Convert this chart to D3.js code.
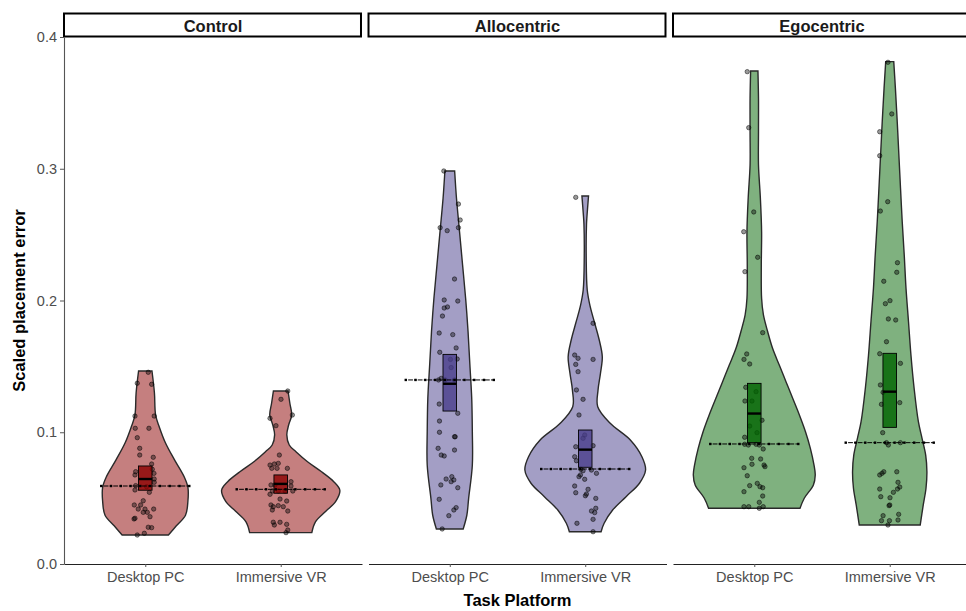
<!DOCTYPE html>
<html>
<head>
<meta charset="utf-8">
<script src="https://cdn.jsdelivr.net/npm/d3@7"></script>
<style>
  body { margin: 0; background: #fff; }
  text { font-family: "Liberation Sans", Arial, sans-serif; }
</style>
</head>
<body>
<svg id="chart" width="966" height="611"></svg>
<script>
const facets = ["Control", "Allocentric", "Egocentric"];
const platforms = ["Desktop PC", "Immersive VR"];
const yTicks = [0, 0.1, 0.2, 0.3, 0.4];
const colours = ["#8b0000", "#483d8b", "#006400"];

// box stats per group (facet order, desktop then VR)
const boxLower = [0.056, 0.0537, 0.1161, 0.0734, 0.0921, 0.1037];
const boxMedian = [0.0645, 0.0608, 0.1368, 0.0868, 0.1142, 0.1308];
const boxUpper = [0.0744, 0.0676, 0.1591, 0.1017, 0.1371, 0.1599];
// dotted reference line per group
const refLine = [0.0592, 0.0567, 0.1397, 0.0721, 0.0911, 0.0921];

// violin outlines: [value, relative half-width]
const controlDesktopViolin = [[0.1465, 0.11], [0.13, 0.15], [0.113, 0.17], [0.104, 0.23], [0.092, 0.33], [0.079, 0.48],
  [0.066, 0.64], [0.058, 0.7], [0.048, 0.7], [0.037, 0.66], [0.029, 0.51], [0.022, 0.38]];
const controlVRViolin = [[0.1313, 0.12], [0.122, 0.15], [0.113, 0.18], [0.1055, 0.13], [0.098, 0.1], [0.0903, 0.14],
  [0.0852, 0.25], [0.0776, 0.44], [0.07, 0.67], [0.0625, 0.87], [0.056, 0.97], [0.0473, 0.9], [0.04, 0.74],
  [0.032, 0.57], [0.0238, 0.51]];
const alloDesktopViolin = [[0.2983, 0.08], [0.2776, 0.11], [0.2523, 0.16], [0.227, 0.21], [0.2017, 0.26], [0.1763, 0.3],
  [0.151, 0.33], [0.1258, 0.36], [0.1004, 0.37], [0.075, 0.37], [0.05, 0.31], [0.037, 0.28], [0.0266, 0.22]];
const alloVRViolin = [[0.2793, 0.054], [0.2636, 0.028], [0.258, 0.021], [0.2333, 0.016], [0.208, 0.033], [0.1953, 0.082],
  [0.1827, 0.156], [0.17, 0.23], [0.1573, 0.28], [0.1447, 0.25], [0.132, 0.21], [0.1194, 0.205], [0.1068, 0.41],
  [0.0941, 0.74], [0.0814, 0.93], [0.0713, 0.99], [0.0613, 0.89], [0.0511, 0.67], [0.041, 0.45], [0.0309, 0.31],
  [0.0245, 0.26]];
const egoDesktopViolin = [[0.3742, 0.06], [0.3535, 0.069], [0.3281, 0.069], [0.3028, 0.069], [0.2776, 0.1], [0.2522, 0.12],
  [0.227, 0.115], [0.2017, 0.12], [0.189, 0.15], [0.1763, 0.22], [0.1637, 0.3], [0.151, 0.41], [0.1384, 0.52],
  [0.1258, 0.63], [0.1131, 0.74], [0.1004, 0.84], [0.0878, 0.92], [0.0751, 0.98], [0.0676, 1], [0.06, 0.97],
  [0.0499, 0.82], [0.0423, 0.75]];
const egoVRViolin = [[0.3813, 0.066], [0.361, 0.093], [0.3357, 0.123], [0.3104, 0.15], [0.2852, 0.177], [0.2598, 0.205],
  [0.2345, 0.238], [0.2093, 0.267], [0.1839, 0.308], [0.1586, 0.348], [0.1334, 0.4], [0.108, 0.47], [0.0954, 0.53],
  [0.0827, 0.59], [0.07, 0.61], [0.0575, 0.595], [0.0448, 0.55], [0.0296, 0.5]];

// participants: [value, jitter offset in category units]
const controlDesktopPts = [[0.1455, 0.022], [0.1372, -0.059], [0.1364, 0.047], [0.1123, -0.076], [0.1123, 0.066],
  [0.103, -0.074], [0.103, 0.027], [0.0959, -0.059], [0.0878, -0.041], [0.0827, -0.041], [0.081, 0.059],
  [0.0759, 0.047], [0.0719, 0.052], [0.0701, -0.071], [0.0688, 0.064], [0.0676, -0.076], [0.0645, 0.066],
  [0.062, 0.066], [0.0595, -0.071], [0.0587, 0.01], [0.0562, -0.076], [0.0544, 0.03], [0.048, -0.015],
  [0.0448, -0.081], [0.0448, -0.034], [0.0417, -0.052], [0.0417, -0.002], [0.0417, 0.062], [0.0392, 0.015],
  [0.0392, -0.015], [0.0359, 0.035], [0.0347, -0.076], [0.0342, -0.083], [0.0279, 0.022], [0.0276, 0.047],
  [0.0233, -0.007], [0.022, -0.059]];
const controlVRPts = [[0.1313, 0.052], [0.125, 0.002], [0.1106, -0.079], [0.1131, 0.086], [0.105, -0.035],
  [0.0827, -0.01], [0.0751, -0.079], [0.0759, -0.047], [0.0764, -0.018], [0.0726, -0.066], [0.0726, -0.027],
  [0.0726, 0.049], [0.06, -0.072], [0.06, -0.042], [0.0625, 0.076], [0.0592, 0.076], [0.0554, -0.062],
  [0.0554, -0.018], [0.0554, 0.032], [0.0554, 0.089], [0.0529, -0.079], [0.0493, -0.005], [0.0478, 0.044],
  [0.0448, -0.072], [0.0435, -0.055], [0.0443, -0.018], [0.0435, 0.019], [0.041, -0.062], [0.0402, 0.052],
  [0.0317, -0.055], [0.0317, -0.005], [0.0296, -0.047], [0.0301, 0.044], [0.0258, 0.052], [0.0238, 0.039]];
const alloDesktopPts = [[0.2983, -0.044], [0.2732, 0.064], [0.2611, 0.077], [0.2553, -0.071], [0.253, -0.019],
  [0.2553, 0.064], [0.2163, 0.035], [0.2004, -0.041], [0.1996, 0.059], [0.1943, -0.041], [0.1951, -0.017],
  [0.1882, -0.054], [0.1753, -0.078], [0.1741, 0.022], [0.164, 0.047], [0.1607, -0.074], [0.1553, 0.005],
  [0.1556, 0.055], [0.1491, 0.01], [0.1397, -0.083], [0.1409, -0.063], [0.1397, -0.034], [0.1397, 0.035],
  [0.1214, -0.078], [0.1144, 0.059], [0.1085, -0.076], [0.1, -0.076], [0.0966, 0.035], [0.0966, 0.04],
  [0.0878, -0.086], [0.0865, 0.035], [0.0827, -0.063], [0.082, -0.041], [0.0645, -0.027], [0.0663, 0.015],
  [0.0638, 0.03], [0.0625, 0.01], [0.06, -0.066], [0.0579, 0.059], [0.0491, -0.078], [0.0428, 0.047],
  [0.041, 0.03], [0.0367, -0.007], [0.0266, -0.056]];
const alloVRPts = [[0.2783, -0.07], [0.1827, 0.058], [0.1586, -0.078], [0.1561, -0.053], [0.1553, 0.058],
  [0.1515, -0.07], [0.146, -0.053], [0.1321, -0.065], [0.125, -0.016], [0.1131, -0.046], [0.0979, -0.004],
  [0.0954, -0.016], [0.089, -0.07], [0.0898, 0.058], [0.0814, -0.078], [0.0784, -0.065], [0.0719, -0.033],
  [0.0708, -0.016], [0.0713, 0.046], [0.0688, 0.083], [0.0676, -0.035], [0.0663, -0.046], [0.0643, -0.004],
  [0.0592, -0.078], [0.0567, 0.021], [0.0541, -0.07], [0.0531, 0.009], [0.0518, 0.001], [0.0498, 0.078],
  [0.0423, 0.078], [0.0402, 0.046], [0.039, 0.07], [0.0339, 0.058], [0.0309, -0.061], [0.0245, 0.058]];
const egoDesktopPts = [[0.3737, -0.052], [0.3312, -0.041], [0.2672, -0.004], [0.2522, -0.078], [0.2328, 0.025],
  [0.2219, -0.069], [0.1756, 0.062], [0.1594, -0.056], [0.1553, -0.076], [0.1518, -0.034], [0.1341, -0.063],
  [0.1308, 0.013], [0.1237, -0.069], [0.1237, -0.017], [0.1091, 0.057], [0.1047, -0.034], [0.0997, 0.02],
  [0.0962, -0.071], [0.0909, -0.071], [0.0903, -0.044], [0.0909, 0.013], [0.0903, 0.037], [0.0873, 0.066],
  [0.0802, -0.019], [0.0797, 0.047], [0.0757, -0.017], [0.0731, -0.076], [0.0751, 0.072], [0.0739, 0.079],
  [0.067, -0.052], [0.0612, 0.022], [0.0595, -0.034], [0.0587, 0.042], [0.0579, 0.062], [0.0549, -0.076],
  [0.0516, 0.062], [0.0468, 0.037], [0.0435, -0.076], [0.0435, -0.041], [0.0423, 0.037], [0.0435, 0.066]];
const egoVRPts = [[0.3808, -0.013], [0.3416, 0.015], [0.3281, -0.074], [0.3099, -0.074], [0.275, -0.015],
  [0.2679, -0.069], [0.2287, 0.057], [0.2214, 0.052], [0.2146, -0.044], [0.1999, 0.002], [0.1976, -0.032],
  [0.186, -0.01], [0.1852, 0.044], [0.1687, -0.024], [0.1596, -0.074], [0.1523, 0.079], [0.1359, -0.069],
  [0.1303, -0.049], [0.1212, -0.061], [0.1225, 0.074], [0.0997, -0.052], [0.0903, -0.01], [0.0921, -0.024],
  [0.0921, 0.079], [0.0676, -0.074], [0.07, -0.044], [0.0688, -0.057], [0.07, 0.052], [0.062, 0.061],
  [0.0584, 0.074], [0.0569, 0.057], [0.0569, -0.074], [0.0544, 0.027], [0.0511, -0.066], [0.0503, 0.002],
  [0.0448, 0], [0.0443, -0.005], [0.0377, 0.066], [0.0367, -0.049], [0.0334, 0.061], [0.0329, -0.061],
  [0.0329, -0.002], [0.0296, -0.013]];

const violins = [controlDesktopViolin, controlVRViolin, alloDesktopViolin, alloVRViolin, egoDesktopViolin, egoVRViolin];
const points = [controlDesktopPts, controlVRPts, alloDesktopPts, alloVRPts, egoDesktopPts, egoVRPts];

const groups = [];
facets.forEach((f, fi) => {
  platforms.forEach((p, pi) => {
    const i = fi * 2 + pi;
    groups.push({
      facet: f, platform: p, colour: colours[fi],
      violin: violins[i], points: points[i],
      lower: boxLower[i], median: boxMedian[i], upper: boxUpper[i], ref: refLine[i],
    });
  });
});

const svg = d3.select("#chart");
const plotTop = 37, plotBottom = 564;

const facetX = d3.scaleBand().domain(facets).range([64, 971]).paddingInner(0.0214);
const panelW = facetX.bandwidth();
const xInner = d3.scalePoint().domain(platforms).range([0, panelW]).padding(0.6);
const unit = xInner.step(); // px per category unit
const y = d3.scaleLinear().domain([0, 0.4]).range([plotBottom, plotTop]);
const halfW = d3.scaleLinear().domain([0, 1]).range([0, 0.45 * unit]);

// strips
const strips = svg.append("g").attr("class", "strips");
facets.forEach((f) => {
  strips.append("rect")
    .attr("x", facetX(f))
    .attr("y", 13.5)
    .attr("width", panelW - 1)
    .attr("height", 23)
    .attr("fill", "#fff")
    .attr("stroke", "#000")
    .attr("stroke-width", 2);
  strips.append("text")
    .attr("x", facetX(f) + panelW / 2)
    .attr("y", 31.5)
    .attr("text-anchor", "middle")
    .attr("font-size", 16.5)
    .attr("font-weight", "bold")
    .attr("fill", "#1a1a1a")
    .text(f);
});

// panels
groups.forEach((g) => {
  const cx = facetX(g.facet) + xInner(g.platform);
  const layer = svg.append("g").attr("class", "group");

  const area = d3.area()
    .y((d) => y(d[0]))
    .x0((d) => cx - halfW(d[1]))
    .x1((d) => cx + halfW(d[1]))
    .curve(d3.curveCatmullRom.alpha(0.5));

  layer.append("path")
    .attr("d", area(g.violin))
    .attr("fill", g.colour)
    .attr("fill-opacity", 0.5)
    .attr("stroke", "#2a2a2a")
    .attr("stroke-width", 1.4);

  layer.selectAll("circle.pt")
    .data(g.points)
    .join("circle")
    .attr("class", "pt")
    .attr("cx", (d) => cx + d[1] * unit)
    .attr("cy", (d) => y(d[0]))
    .attr("r", 2.2)
    .attr("fill", "#000")
    .attr("fill-opacity", 0.4)
    .attr("stroke", "#000")
    .attr("stroke-opacity", 0.6)
    .attr("stroke-width", 0.8);

  const bw = 0.05 * unit;
  layer.append("rect")
    .attr("x", cx - bw)
    .attr("y", y(g.upper))
    .attr("width", bw * 2)
    .attr("height", y(g.lower) - y(g.upper))
    .attr("fill", g.colour)
    .attr("fill-opacity", 0.8)
    .attr("stroke", "#000")
    .attr("stroke-width", 0.9);

  layer.append("line")
    .attr("x1", cx - bw)
    .attr("x2", cx + bw)
    .attr("y1", y(g.median))
    .attr("y2", y(g.median))
    .attr("stroke", "#000")
    .attr("stroke-width", 2.4);

  // dotted reference line with small markers
  const rw = 0.325 * unit;
  const ry = y(g.ref);
  layer.append("line")
    .attr("x1", cx - rw)
    .attr("x2", cx + rw)
    .attr("y1", ry)
    .attr("y2", ry)
    .attr("stroke", "#000")
    .attr("stroke-width", 1)
    .attr("stroke-dasharray", "2.4,1.2,4.8,1.2")
    .attr("stroke-dashoffset", 1.2);
  const marks = d3.range(10).map((k) => cx - rw + (k * 2 * rw) / 9);
  layer.selectAll("rect.mk")
    .data(marks)
    .join("rect")
    .attr("class", "mk")
    .attr("x", (d) => d - 1.2)
    .attr("y", ry - 1.2)
    .attr("width", 2.4)
    .attr("height", 2.4)
    .attr("fill", "#000");
});

// x axes per facet
facets.forEach((f) => {
  const ax = svg.append("g")
    .attr("transform", `translate(${facetX(f)},${plotBottom})`)
    .call(d3.axisBottom(xInner).tickSize(3).tickSizeOuter(0).tickPadding(5));
  ax.select(".domain").attr("stroke", "#222").attr("stroke-width", 1.1);
  ax.selectAll(".tick line").attr("stroke", "#555");
  ax.selectAll(".tick text")
    .attr("font-size", 14.5)
    .attr("fill", "#4d4d4d")
    .attr("font-family", "Liberation Sans, Arial, sans-serif");
});

// y axis on first panel
const yAx = svg.append("g")
  .attr("transform", `translate(${facetX(facets[0])},0)`)
  .call(d3.axisLeft(y).tickValues(yTicks).tickFormat(d3.format(".1f")).tickSize(4).tickSizeOuter(0).tickPadding(3));
yAx.select(".domain").attr("stroke", "#555").attr("stroke-width", 1.1);
yAx.selectAll(".tick line").attr("stroke", "#555");
yAx.selectAll(".tick text")
  .attr("font-size", 14.5)
  .attr("fill", "#4d4d4d")
  .attr("font-family", "Liberation Sans, Arial, sans-serif");

// axis titles
svg.append("text")
  .attr("x", (64 + 971) / 2)
  .attr("y", 606)
  .attr("text-anchor", "middle")
  .attr("font-size", 16.5)
  .attr("font-weight", "bold")
  .text("Task Platform");

svg.append("text")
  .attr("transform", `translate(25,${(plotTop + plotBottom) / 2}) rotate(-90)`)
  .attr("text-anchor", "middle")
  .attr("font-size", 16.5)
  .attr("font-weight", "bold")
  .text("Scaled placement error");
</script>
</body>
</html>
